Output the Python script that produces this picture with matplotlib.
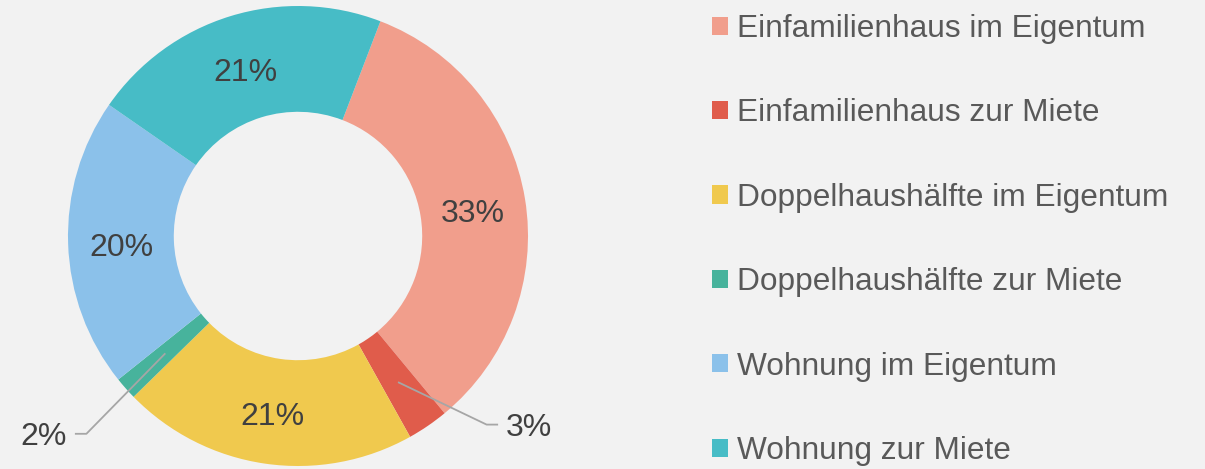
import numpy as np
import matplotlib
matplotlib.use('Agg')
import matplotlib.pyplot as plt

plt.rcParams['font.family'] = ['Liberation Sans', 'DejaVu Sans']

# data
categories = ['Einfamilienhaus im Eigentum', 'Einfamilienhaus zur Miete',
              'Doppelhaushälfte im Eigentum', 'Doppelhaushälfte zur Miete',
              'Wohnung im Eigentum', 'Wohnung zur Miete']
shares = [33.2, 2.9, 20.8, 1.6, 20.4, 21.2]
colors = ['#F19E8C', '#E05C4B', '#F0C94E', '#47B39C', '#8BC1EA', '#47BCC6']

# small slices get an outside label with a leader line: elbow point and side
outside = {1: ((0.82, -0.82), 1), 3: ((-0.92, -0.86), -1)}

bg = '#F2F2F2'
W, H = 1205, 469
fig = plt.figure(figsize=(W / 100, H / 100), dpi=100, facecolor=bg)
ax = fig.add_axes([68 / W, 3 / H, 460 / W, 460 / H])
ax.set_facecolor(bg)

wedges, _ = ax.pie(shares, colors=colors, startangle=69, counterclock=False,
                   radius=1.0, wedgeprops=dict(width=0.46, linewidth=0))
ax.set_xlim(-1, 1)
ax.set_ylim(-1, 1)
ax.set_aspect('equal')
ax.axis('off')

r_lab = 0.77
total = sum(shares)
for i, (w, v) in enumerate(zip(wedges, shares)):
    ang = np.deg2rad((w.theta1 + w.theta2) / 2)
    x, y = r_lab * np.cos(ang), r_lab * np.sin(ang)
    txt = f'{100 * v / total:.0f}%'
    if i in outside:
        (ex, ey), side = outside[i]
        hx = ex + side * 0.05
        ax.plot([x, ex, hx], [y, ey, ey], color='#A6A6A6', lw=1.3,
                clip_on=False, solid_capstyle='butt')
        ax.text(hx + side * 0.035, ey - 0.015, txt, fontsize=23, color='#404040',
                ha='left' if side > 0 else 'right', va='center')
    else:
        ax.text(x, y - 0.027, txt, fontsize=23, color='#404040',
                ha='center', va='center')

leg = fig.legend(wedges, categories, loc='center left',
                 bbox_to_anchor=(712 / W, 1 - 240 / H), frameon=False,
                 fontsize=22.8, labelcolor='#595959', handlelength=0.5,
                 handleheight=0.5, handletextpad=0.28, labelspacing=1.72,
                 borderpad=0, borderaxespad=0)

fig.savefig('out.png', dpi=100, facecolor=bg)
